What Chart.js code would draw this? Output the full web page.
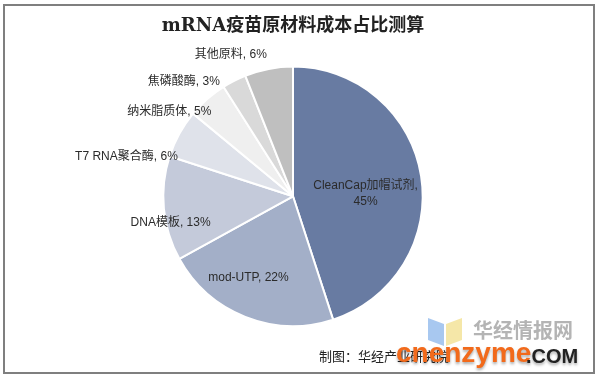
<!DOCTYPE html>
<html>
<head>
<meta charset="utf-8">
<script src="https://cdn.jsdelivr.net/npm/chart.js@4"></script>
<style>
  html, body { margin: 0; padding: 0; background: #fff; }
  #wrap { position: relative; width: 598px; height: 378px; }
  #frame { position: absolute; left: 3px; top: 4px; width: 588px; height: 366px; border: 2px solid #7f7f7f; pointer-events: none; }
</style>
</head>
<body>
<div id="wrap">
  <canvas id="pieChart" width="598" height="378"></canvas>
  <div id="frame"></div>
</div>
<script>
// 数据
const labels = ["CleanCap加帽试剂", "mod-UTP", "DNA模板", "T7 RNA聚合酶", "纳米脂质体", "焦磷酸酶", "其他原料"];
const shares = [45, 22, 13, 6, 5, 3, 6];
const colors = ["#687ba2", "#a3afc8", "#c4cada", "#dfe2ea", "#efefef", "#d9d9d9", "#bfbfbf"];

// 标签位置: [相对扇区中线的角度偏移(度), 半径倍数]
const labelPlace = [[6.6, 0.56], [7.1, 0.715], [-6.7, 0.965], [-15.4, 1.32], [-14.1, 1.157], [-16.7, 1.218], [-12.9, 1.193]];

const FONT = '"Liberation Sans", Arial, "Noto Sans CJK SC", sans-serif';

const sliceLabels = {
    id: "sliceLabels",
    afterDatasetsDraw(chart) {
        const ctx = chart.ctx;
        const meta = chart.getDatasetMeta(0);
        ctx.save();
        ctx.font = "12px " + FONT;
        ctx.fillStyle = "#2b2b2b";
        ctx.textAlign = "center";
        ctx.textBaseline = "middle";
        meta.data.forEach((arc, i) => {
            const p = arc.getProps(["x", "y", "startAngle", "endAngle", "outerRadius"], true);
            const a = (p.startAngle + p.endAngle) / 2 + labelPlace[i][0] * Math.PI / 180;
            const r = p.outerRadius * labelPlace[i][1];
            const x = p.x + Math.cos(a) * r;
            const y = p.y + Math.sin(a) * r;
            if (i === 0) {
                ctx.fillText(labels[i] + ",", x, y - 8);
                ctx.fillText(shares[i] + "%", x, y + 8);
            } else {
                ctx.fillText(labels[i] + ", " + shares[i] + "%", x, y);
            }
        });
        ctx.restore();
    }
};

// 水印和来源
const footer = {
    id: "footer",
    afterDraw(chart) {
        const ctx = chart.ctx;
        ctx.save();
        // logo
        ctx.fillStyle = "#a8c8f0";
        ctx.beginPath();
        ctx.moveTo(428, 318); ctx.lineTo(444, 324); ctx.lineTo(444, 346); ctx.lineTo(428, 340); ctx.closePath();
        ctx.fill();
        ctx.fillStyle = "#f5e7a8";
        ctx.beginPath();
        ctx.moveTo(446, 324); ctx.lineTo(462, 318); ctx.lineTo(462, 340); ctx.lineTo(446, 346); ctx.closePath();
        ctx.fill();
        ctx.font = "bold 20px " + FONT;
        ctx.fillStyle = "#b4b4b4";
        ctx.textBaseline = "middle";
        ctx.fillText("华经情报网", 473, 332);
        ctx.font = "13px " + FONT;
        ctx.fillStyle = "#222222";
        ctx.fillText("制图：华经产业研究院", 319, 357);
        ctx.font = "bold 28px " + FONT;
        ctx.shadowColor = "rgba(0,0,0,0.35)";
        ctx.shadowBlur = 3;
        ctx.shadowOffsetY = 2;
        ctx.fillStyle = "#f26a1b";
        ctx.fillText("cnenzyme", 396, 354);
        ctx.font = "bold 20px " + FONT;
        ctx.fillStyle = "#222222";
        ctx.fillText(".COM", 526, 357);
        ctx.restore();
    }
};

const ctx = document.getElementById("pieChart").getContext("2d");
new Chart(ctx, {
    type: "pie",
    data: {
        labels: labels,
        datasets: [{
            data: shares,
            backgroundColor: colors,
            borderColor: "#ffffff",
            borderWidth: 2
        }]
    },
    options: {
        responsive: false,
        animation: false,
        layout: { padding: { top: 0, bottom: 51, left: 0, right: 12 } },
        plugins: {
            legend: { display: false },
            tooltip: { enabled: false },
            title: {
                display: true,
                text: "mRNA疫苗原材料成本占比测算",
                color: "#222222",
                font: { family: '"DejaVu Serif", "Noto Sans CJK SC", serif', size: 18, weight: "bold" },
                padding: { top: 16, bottom: 28 }
            }
        }
    },
    plugins: [sliceLabels, footer]
});
</script>
</body>
</html>
